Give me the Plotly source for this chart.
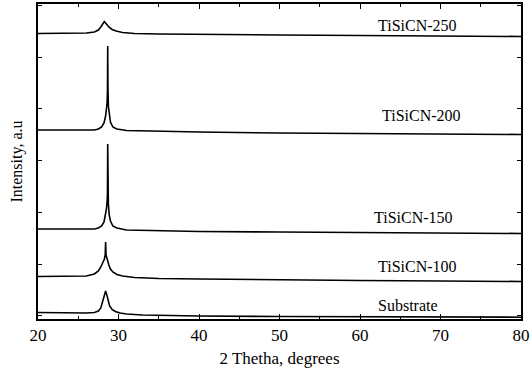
import plotly.graph_objects as go

# Values (intensity in arbitrary units, stacked offsets included)
sub_x = [20, 24, 26, 27, 27.5, 27.8, 28.0, 28.2, 28.4, 28.55, 28.7, 28.9, 29.2, 29.6, 30.2, 31, 33, 36, 40, 50, 60, 70, 80]
sub_y = [6.5, 6, 6, 6.5, 8, 11, 16, 23, 28, 24, 18, 13, 9.5, 7.5, 6, 5, 4, 3.5, 3, 2.5, 2.3, 2, 1.8]

t100_x = [20, 24, 26, 27, 27.5, 27.8, 27.95, 28.1, 28.25, 28.35, 28.4, 28.45, 28.6, 28.8, 29.0, 29.3, 29.8, 30.5, 32, 35, 40, 50, 60, 70, 80]
t100_y = [42.5, 42.5, 43, 45, 48, 52, 55, 57, 60, 64, 77, 64, 59, 54, 50, 47, 44.5, 43, 41.5, 40.5, 40, 39, 38.5, 38, 37.5]

t150_x = [20, 24, 26, 27, 27.5, 27.9, 28.2, 28.4, 28.5, 28.58, 28.63, 28.66, 28.69, 28.74, 28.85, 29.0, 29.3, 29.8, 31, 35, 40, 50, 60, 70, 80]
t150_y = [90, 90, 89.5, 90, 91, 93, 97, 104, 110, 117, 125, 175, 130, 115, 104, 98, 93, 91, 89, 88, 87.5, 87, 86.5, 86, 85.5]

t200_x = [20, 24, 26, 27, 27.5, 27.9, 28.2, 28.4, 28.5, 28.58, 28.63, 28.66, 28.69, 28.74, 28.85, 29.0, 29.3, 29.8, 31, 35, 40, 50, 60, 70, 80]
t200_y = [189, 189, 188.5, 189, 190, 192, 196, 203, 210, 216, 228, 273, 232, 213, 203, 197, 192, 190, 188.5, 187.5, 187, 186, 185.5, 185, 184.5]

t250_x = [20, 24, 26, 27, 27.5, 27.8, 28.0, 28.24, 28.5, 28.8, 29.2, 29.7, 30.5, 32, 35, 40, 50, 60, 70, 80]
t250_y = [285.5, 285.5, 286, 287, 289, 292, 295, 297.5, 295, 292, 289.5, 288, 286.5, 285.5, 285, 284.5, 284, 283.5, 283, 282.5]

series = [
    ("Substrate", sub_x, sub_y),
    ("TiSiCN-100", t100_x, t100_y),
    ("TiSiCN-150", t150_x, t150_y),
    ("TiSiCN-200", t200_x, t200_y),
    ("TiSiCN-250", t250_x, t250_y),
]

label_names = ["TiSiCN-250", "TiSiCN-200", "TiSiCN-150", "TiSiCN-100", "Substrate"]
label_x = [67.2, 67.7, 66.7, 67.1, 66.0]
label_y = [294, 204, 102, 53, 14]

x_ticks = [20, 30, 40, 50, 60, 70, 80]

FONT = "Liberation Serif, Times New Roman, serif"

fig = go.Figure()
for name, xs, ys in series:
    fig.add_trace(go.Scatter(x=xs, y=ys, mode="lines", name=name,
                             line=dict(color="black", width=1.6), showlegend=False))

for t, x, y in zip(label_names, label_x, label_y):
    fig.add_annotation(x=x, y=y, text=t, showarrow=False,
                       font=dict(family=FONT, size=16, color="black"))

fig.update_layout(
    width=531, height=369,
    margin=dict(l=38, r=10, t=4, b=50),
    paper_bgcolor="white", plot_bgcolor="white",
    font=dict(family=FONT, size=16, color="black"),
)
fig.update_xaxes(
    range=[20, 80], tickvals=x_ticks, ticktext=[str(v) for v in x_ticks],
    ticks="inside", ticklen=5, tickwidth=1, tickcolor="black",
    minor=dict(dtick=5, tick0=20, ticks="inside", ticklen=3, tickcolor="black"),
    showline=True, linecolor="black", linewidth=1.6, mirror="ticks",
    showgrid=False, zeroline=False, automargin=False,
    title=dict(text="2 Thetha, degrees", standoff=8, font=dict(size=17)),
    tickfont=dict(size=17),
)
fig.update_yaxes(
    range=[0, 315], tick0=55, dtick=51.75, showticklabels=False,
    ticks="inside", ticklen=4, tickwidth=1, tickcolor="black",
    showline=True, linecolor="black", linewidth=1.6, mirror="ticks",
    showgrid=False, zeroline=False, automargin=False,
    title=dict(text="Intensity, a.u", standoff=10, font=dict(size=16)),
)

fig.write_html(
    "out.html",
    config={"displayModeBar": False},
    post_script="document.body.style.margin='0';document.body.style.overflow='hidden';",
)
